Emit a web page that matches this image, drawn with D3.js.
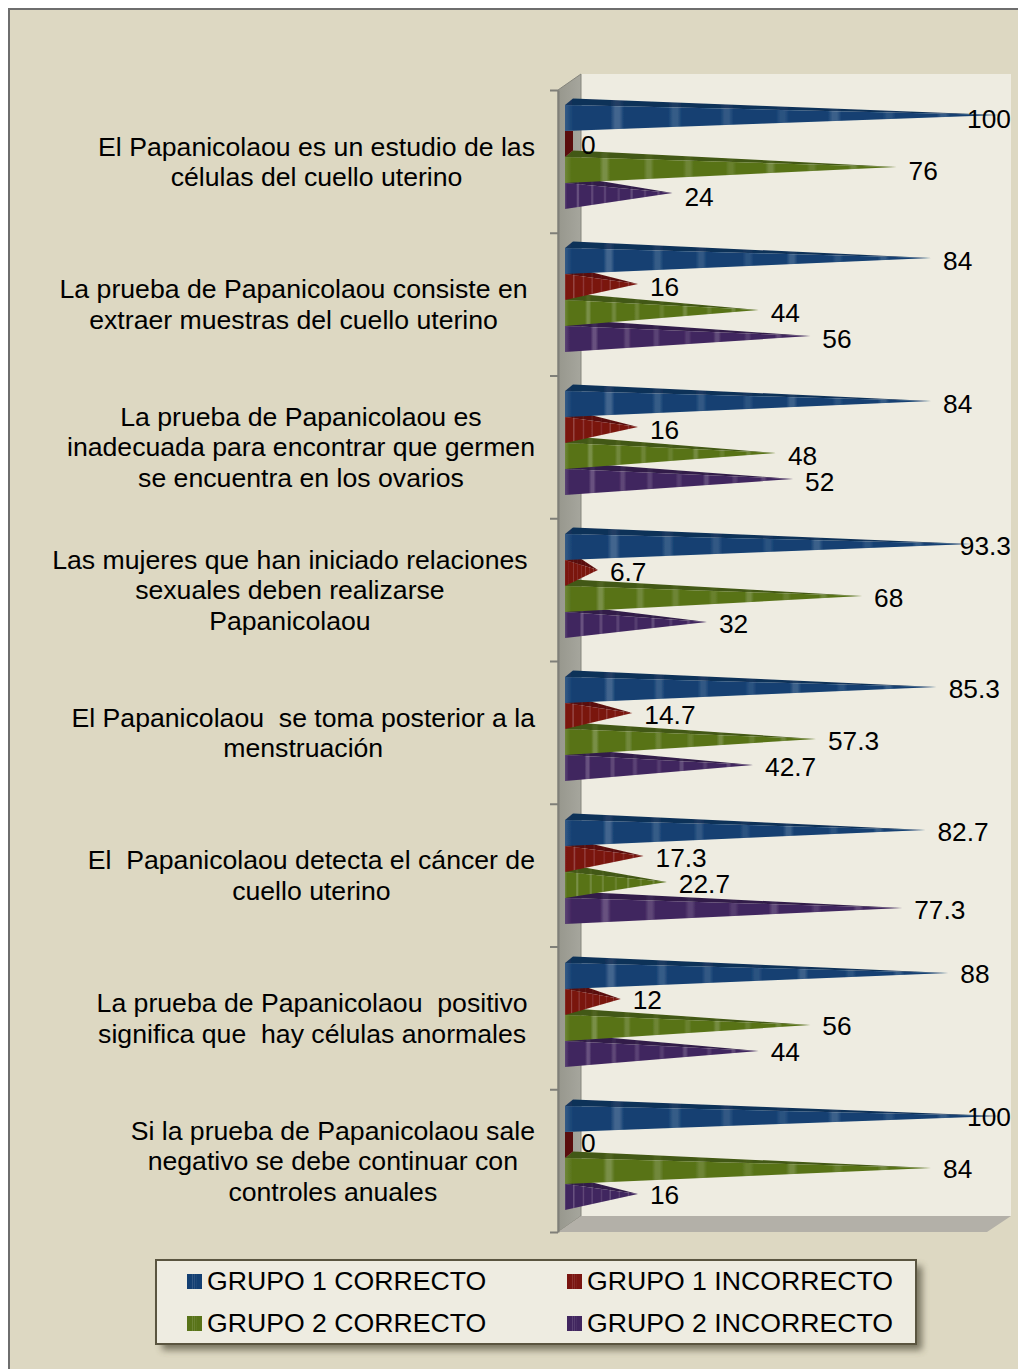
<!DOCTYPE html>
<html><head><meta charset="utf-8">
<script src="https://cdn.jsdelivr.net/npm/d3@7"></script>
<style>
html,body{margin:0;padding:0;background:#fff;overflow:hidden}
svg{display:block}
text{font-family:"Liberation Sans",Arial,sans-serif;font-size:26.65px;fill:#000;white-space:pre}
text.val{font-size:26.3px}
</style></head><body>
<svg id="c" width="1018" height="1369"></svg>
<script>
const categories = [
 ["El Papanicolaou es un estudio de las","células del cuello uterino"],
 ["La prueba de Papanicolaou consiste en ","extraer muestras del cuello uterino"],
 ["La prueba de Papanicolaou es","inadecuada para encontrar que germen","se encuentra en los ovarios"],
 ["Las mujeres que han iniciado relaciones ","sexuales deben realizarse","Papanicolaou"],
 ["El Papanicolaou  se toma posterior a la","menstruación"],
 ["El  Papanicolaou detecta el cáncer de","cuello uterino"],
 ["La prueba de Papanicolaou  positivo ","significa que  hay células anormales"],
 ["Si la prueba de Papanicolaou sale","negativo se debe continuar con ","controles anuales"]
];
const seriesNames = ["GRUPO 1 CORRECTO","GRUPO 1 INCORRECTO","GRUPO 2 CORRECTO","GRUPO 2 INCORRECTO"];
const grupo1Correcto   = [100,84,84,93.3,85.3,82.7,88,100];
const grupo1Incorrecto = [0,16,16,6.7,14.7,17.3,12,0];
const grupo2Correcto   = [76,44,48,68,57.3,22.7,56,84];
const grupo2Incorrecto = [24,56,52,32,42.7,77.3,44,16];
const seriesValues = [grupo1Correcto,grupo1Incorrecto,grupo2Correcto,grupo2Incorrecto];
const frontColors = ["#133f72","#7a1510","#587318","#41265f"];
const topColors   = ["#0f3058","#5a0f0b","#425812","#301c48"];
const stripeStops = [.12,.253,.372,.5,.62,.745,.87];
const stripeLevels = [.2,.15,.13,.1,.17,.1,.15];

const svg = d3.select("#c");
const W = 1018, H = 1369;
const depthX = 8, depthY = 6.5, apexX = 4, apexY = 3;

const x = d3.scaleLinear().domain([0,100]).range([565,996]);
const y = d3.scaleBand().domain(d3.range(categories.length)).range([90,1234]);
const labelY = d3.scaleBand().domain(d3.range(categories.length)).range([90,1230.8]);
const textY = d3.scaleBand().domain(d3.range(categories.length)).range([90,1232]);
const inner = d3.scaleBand().domain(d3.range(seriesNames.length)).range([15,119]);
const barH = 26;

// gradients
const defs = svg.append("defs");
function stripes(id,color,k){
  const g = defs.append("linearGradient").attr("id",id).attr("x1",0).attr("x2",1).attr("y1",0).attr("y2",0);
  const base = d3.rgb(color), stops=[[0,d3.interpolateRgb(color,"#ffffff")(.14*k)],[.02,base]];
  stripeStops.forEach((s,i)=>{
    const c = d3.interpolateRgb(color,"#ffffff")(stripeLevels[i]*k);
    stops.push([s-.016,base],[s-.005,c],[s+.005,c],[s+.016,base]);
  });
  stops.push([1,base]);
  stops.forEach(s=>g.append("stop").attr("offset",s[0]).attr("stop-color",s[1]));
}
frontColors.forEach((c,i)=>stripes("f"+i,c,1));
topColors.forEach((c,i)=>stripes("t"+i,c,.35));
const sideG = defs.append("linearGradient").attr("id","side").attr("x1",0).attr("x2",1).attr("y1",0).attr("y2",0);
sideG.append("stop").attr("offset",0).attr("stop-color","#97978d");
sideG.append("stop").attr("offset",1).attr("stop-color","#a6a69d");
const blur = defs.append("filter").attr("id","sh").attr("x","-5%").attr("y","-20%").attr("width","110%").attr("height","140%");
blur.append("feGaussianBlur").attr("stdDeviation",3.5);
const soft = defs.append("filter").attr("id","soft").attr("x","-2%").attr("y","-2%").attr("width","104%").attr("height","104%");
soft.append("feGaussianBlur").attr("stdDeviation",.45);

// background
svg.append("rect").attr("x",9).attr("y",9).attr("width",W+20).attr("height",H+20)
  .attr("fill","#ddd8c2").attr("stroke","#6e6e6e").attr("stroke-width",2);

// 3D walls
const wallL=581, wallT=74, wallR=1011, wallB=1216, frontL=558, frontT=90, frontB=1232, frontR=987;
svg.append("rect").attr("x",wallL).attr("y",wallT).attr("width",wallR-wallL).attr("height",wallB-wallT).attr("fill","#eeece1");
svg.append("path").attr("d",d3.line()([[frontL,frontT],[wallL,wallT],[wallL,wallB],[frontL,frontB]])+"Z")
  .attr("fill","url(#side)").attr("stroke","#85857c").attr("stroke-width",1);
svg.append("path").attr("d",d3.line()([[frontL,frontB],[wallL,wallB],[wallR,wallB],[frontR,frontB]])+"Z")
  .attr("fill","#b3b0a8");

// axis
const tickScale = d3.scaleLinear().domain([0,categories.length]).range([90,1232]);
const axisG = svg.append("g").attr("transform",`translate(${frontL},0)`)
  .call(d3.axisLeft(tickScale).ticks(categories.length).tickFormat("").tickSize(8).tickSizeOuter(0));
axisG.selectAll("path,line").attr("stroke","#7f7f78").attr("stroke-width",2);

// bars, drawn back to front (last series first)
const bars = svg.append("g").attr("filter","url(#soft)");
categories.forEach((_,c)=>{
  d3.range(seriesNames.length-1,-1,-1).forEach(s=>{
    const v = seriesValues[s][c];
    const top = y(c)+inner(s), bot = top+barH, x0 = x(0);
    const tip = [x(v)+apexX, top+barH/2-apexY];
    if(v===0){
      bars.append("path").attr("d",d3.line()([[x0,top],[x0+depthX,top],[x0+depthX,bot-depthY],[x0,bot]])+"Z")
        .attr("fill",topColors[s]);
      return;
    }
    bars.append("path").attr("d",d3.line()([[x0,top],[x0+depthX,top-depthY],tip])+"Z").attr("fill",`url(#t${s})`);
    bars.append("path").attr("d",d3.line()([[x0,top],[x0,bot],tip])+"Z").attr("fill",`url(#f${s})`);
  });
});

// category labels: lines share one visible centre, block ends at the right margin
const catG = svg.append("g");
categories.forEach((lines,c)=>{
  const cy = textY(c)+textY.bandwidth()/2+.6;
  const ts = lines.map((t,i)=>catG.append("text").attr("text-anchor","middle")
     .attr("dominant-baseline","central").attr("y",cy+(i-(lines.length-1)/2)*30.6).text(t.trimEnd()));
  const widths = ts.map(t=>t.node().getComputedTextLength());
  const longest = d3.maxIndex(widths);
  const right = 535-(lines[longest].endsWith(" ")?7.4:0);
  ts.forEach(t=>t.attr("x",right-widths[longest]/2));
});

// data labels
const lab = svg.append("g");
categories.forEach((_,c)=>{
  seriesValues.forEach((vals,s)=>{
    const v = vals[c];
    const t = lab.append("text").attr("class","val").attr("dominant-baseline","central")
      .attr("y",labelY(c)+inner(s)+13.5).text(v);
    const w = t.node().getComputedTextLength();
    t.attr("x",Math.min(x(v)+apexX+12, wallR-w));
  });
});

// legend
const leg = svg.append("g");
leg.append("rect").attr("x",162).attr("y",1266).attr("width",760).attr("height",84).attr("fill","#4f4b38").attr("opacity",.7).attr("filter","url(#sh)");
leg.append("rect").attr("x",156).attr("y",1260).attr("width",760).attr("height",84).attr("fill","#eeece1").attr("stroke","#5a5540").attr("stroke-width",2);
const lx = d3.scalePoint().domain([0,1]).range([187,567]);
const ly = d3.scalePoint().domain([0,1]).range([1274,1316]);
seriesNames.forEach((n,i)=>{
  const col=i%2,row=i>>1;
  leg.append("rect").attr("x",lx(col)).attr("y",ly(row)).attr("width",15).attr("height",15).attr("fill",`url(#f${i})`);
  leg.append("text").attr("x",lx(col)+20).attr("y",ly(row)+6.5).attr("dominant-baseline","central").text(n);
});
</script></body></html>
